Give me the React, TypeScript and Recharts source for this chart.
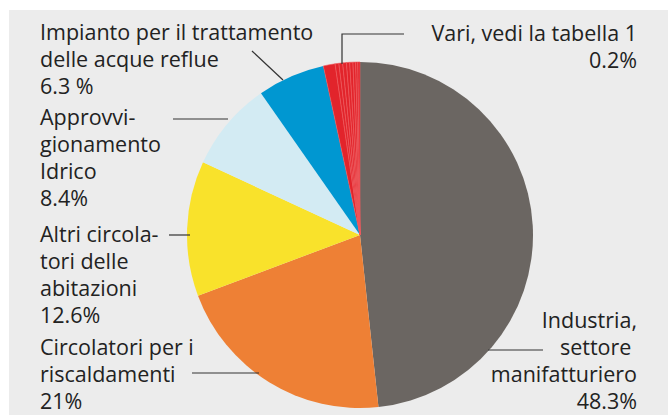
import { PieChart, Pie, Cell } from 'recharts'

const names = [
  'Industria, settore manifatturiero',
  'Circolatori per i riscaldamenti',
  'Altri circolatori delle abitazioni',
  'Approvvigionamento Idrico',
  'Impianto per il trattamento delle acque reflue',
  'Vari 1', 'Vari 2', 'Vari 3', 'Vari 4', 'Vari 5', 'Vari 6', 'Vari 7', 'Vari 8', 'Vari 9',
]
const values = [48.3, 21, 12.6, 8.4, 6.3, 1.1, 0.35, 0.35, 0.35, 0.3, 0.3, 0.25, 0.2, 0.2]
const colors = ['#6b6662', '#ee8035', '#f9e22b', '#d3ebf3', '#0097d1']
const variColor = '#e2242b'

const data = names.map((n, i) => ({ name: n, value: values[i] }))

const font = "'Open Sans', 'Noto Sans', sans-serif"

type Lbl = { x: number; y: number; lines: string[]; anchor?: 'start' | 'end' }
const labels: Lbl[] = [
  { x: 40, y: 40, lines: ['Impianto per il trattamento', 'delle acque reflue', '6.3 %'] },
  { x: 637, y: 41, lines: ['Vari, vedi la tabella 1', '0.2%'], anchor: 'end' },
  { x: 40, y: 125, lines: ['Approvvi-', 'gionamento', 'Idrico', '8.4%'] },
  { x: 40, y: 242, lines: ['Altri circola-', 'tori delle', 'abitazioni', '12.6%'] },
  { x: 40, y: 355, lines: ['Circolatori per i', 'riscaldamenti', '21%'] },
  { x: 637, y: 328, lines: ['Industria,', 'settore ', 'manifatturiero', '48.3%'], anchor: 'end' },
]

export default function App() {
  return (
    <div style={{ position: 'absolute', left: 0, top: 0, width: 668, height: 415, background: '#fff', overflow: 'hidden' }}>
      <div style={{ position: 'absolute', left: 9, top: 10, width: 659, height: 405, background: '#ececec' }} />
      <div style={{ position: 'absolute', left: 0, top: 0 }}>
        <PieChart width={668} height={415}>
          <Pie
            data={data}
            dataKey='value'
            cx={355}
            cy={230}
            outerRadius={173}
            startAngle={90}
            endAngle={-270}
            isAnimationActive={false}
          >
            {data.map((d, i) => (
              <Cell
                key={d.name}
                fill={i < 5 ? colors[i] : variColor}
                stroke={i < 5 ? 'none' : '#ee5a5e'}
                strokeWidth={i < 5 ? 0 : 0.6}
              />
            ))}
          </Pie>
        </PieChart>
      </div>
      <svg width={668} height={415} style={{ position: 'absolute', left: 0, top: 0 }}>
        <g stroke='#333' strokeWidth={1.2} fill='none'>
          <polyline points='252,51 283,80' />
          <polyline points='342,64 342,34 404,34' />
          <polyline points='173,119 228,119' />
          <polyline points='169,235 190,235' />
          <polyline points='192,373 259,373' />
          <polyline points='488,350 543,350' />
        </g>
        {labels.map((l, i) => (
          <text key={i} x={l.x} y={l.y} textAnchor={l.anchor ?? 'start'} fontFamily={font} fontSize={21.5} fill='#222'>
            {l.lines.map((t, j) => (
              <tspan key={j} x={l.x} dy={j === 0 ? 0 : 27}>{t}</tspan>
            ))}
          </text>
        ))}
      </svg>
    </div>
  )
}
